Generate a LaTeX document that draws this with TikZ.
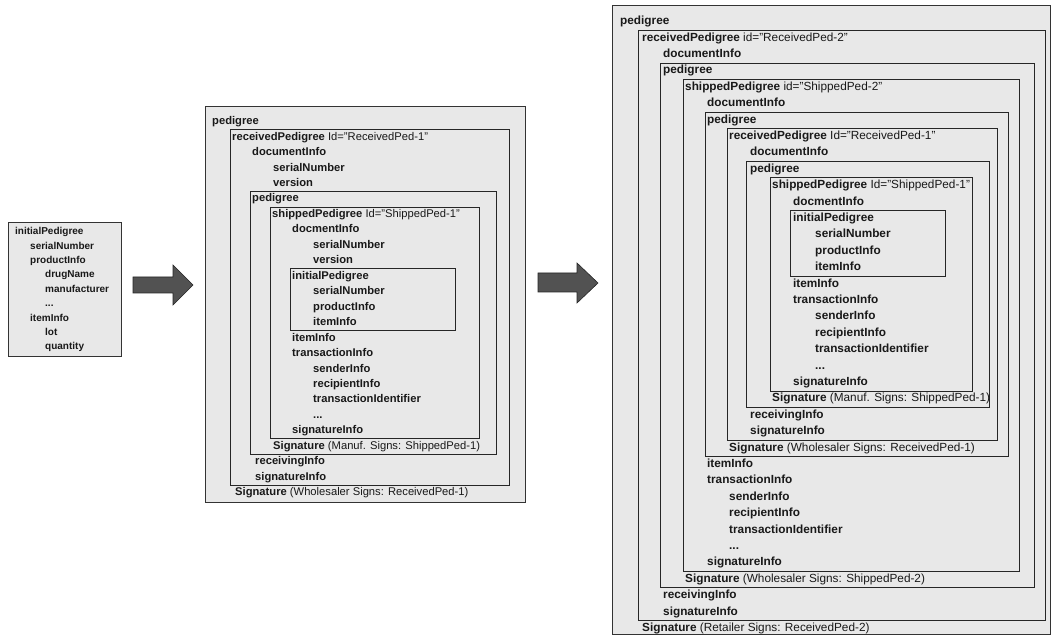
\documentclass[tikz,border=0pt]{standalone}
\usepackage{fontspec}
\setmainfont{Liberation Sans}
\usepackage{tikz}

\tikzset{
  entry/.style={anchor=mid west, inner sep=0pt, text=black!90},
  box/.style={draw=black!85, line width=0.9pt},
  panel/.style={draw=black!80, line width=1pt, fill=black!9},
  blockarrow/.style={fill=black!68, draw=black!85, line width=0.6pt, line join=miter}
}

\begin{document}
\begin{tikzpicture}[x=1pt, y=-1pt]
	  \useasboundingbox (0,0) rectangle (1053,636);
	  % Panels
	  \draw [panel] (8,223) rectangle (121,357);
	  \draw [panel] (205,107) rectangle (525,502);
	  \draw [panel] (612,6) rectangle (1050,634);
	  % Arrows
	  \filldraw [blockarrow] (133,277) -- (173,277) -- (173,265) -- (193,285) -- (173,305) -- (173,293) -- (133,293) -- cycle;
	  \filldraw [blockarrow] (538,273) -- (577,273) -- (577,263) -- (598,283) -- (577,303) -- (577,292) -- (538,292) -- cycle;
	  % Left panel
	  \begin{scope}[yshift=-232pt, y=-14.4pt, font=\fontsize{10}{12}\selectfont\bfseries]
	  \node [entry] (l0) at (15,0) {initialPedigree};
	  \node [entry] (l1) at (30,1) {serialNumber};
	  \node [entry] (l2) at (30,2) {productInfo};
	  \node [entry] (l3) at (45,3) {drugName};
	  \node [entry] (l4) at (45,4) {manufacturer};
	  \node [entry] (l5) at (45,5) {...};
	  \node [entry] (l6) at (30,6) {itemInfo};
	  \node [entry] (l7) at (45,7) {lot};
	  \node [entry] (l8) at (45,8) {quantity};
	  \end{scope}
	  % Middle panel
	  \begin{scope}[yshift=-122pt, y=-15.46pt, font=\fontsize{11.2}{13}\selectfont]
	  \draw [box] (230,0.5) rectangle (509,23.5);
	  \draw [box] (250,4.5) rectangle (496,21.5);
	  \draw [box] (270,5.5) rectangle (479,20.5);
	  \draw [box] (290,9.5) rectangle (455,13.5);
	  \node [entry] (m0) at (212,0) {\textbf{pedigree}};
	  \node [entry] (m1) at (232,1) {\textbf{receivedPedigree} Id="ReceivedPed-1"};
	  \node [entry] (m2) at (252,2) {\textbf{documentInfo}};
	  \node [entry] (m3) at (273,3) {\textbf{serialNumber}};
	  \node [entry] (m4) at (273,4) {\textbf{version}};
	  \node [entry] (m5) at (252,5) {\textbf{pedigree}};
	  \node [entry] (m6) at (272,6) {\textbf{shippedPedigree} Id="ShippedPed-1"};
	  \node [entry] (m7) at (292,7) {\textbf{docmentInfo}};
	  \node [entry] (m8) at (313,8) {\textbf{serialNumber}};
	  \node [entry] (m9) at (313,9) {\textbf{version}};
	  \node [entry] (m10) at (292,10) {\textbf{initialPedigree}};
	  \node [entry] (m11) at (313,11) {\textbf{serialNumber}};
	  \node [entry] (m12) at (313,12) {\textbf{productInfo}};
	  \node [entry] (m13) at (313,13) {\textbf{itemInfo}};
	  \node [entry] (m14) at (292,14) {\textbf{itemInfo}};
	  \node [entry] (m15) at (292,15) {\textbf{transactionInfo}};
	  \node [entry] (m16) at (313,16) {\textbf{senderInfo}};
	  \node [entry] (m17) at (313,17) {\textbf{recipientInfo}};
	  \node [entry] (m18) at (313,18) {\textbf{transactionIdentifier}};
	  \node [entry] (m19) at (313,19) {\textbf{...}};
	  \node [entry] (m20) at (292,20) {\textbf{signatureInfo}};
	  \node [entry] (m21) at (273,21) {\textbf{Signature} (Manuf. Signs: ShippedPed-1)};
	  \node [entry] (m22) at (255,22) {\textbf{receivingInfo}};
	  \node [entry] (m23) at (255,23) {\textbf{signatureInfo}};
	  \node [entry] (m24) at (235,24) {\textbf{Signature} (Wholesaler Signs: ReceivedPed-1)};
	  \end{scope}
	  % Right panel
	  \begin{scope}[yshift=-22pt, y=-16.4pt, font=\fontsize{11.8}{14}\selectfont]
	  \draw [box] (638,0.5) rectangle (1045,36.5);
	  \draw [box] (660,2.5) rectangle (1034,34.5);
	  \draw [box] (683,3.5) rectangle (1019,33.5);
	  \draw [box] (705,5.5) rectangle (1008,26.5);
	  \draw [box] (727,6.5) rectangle (997,25.5);
	  \draw [box] (746,8.5) rectangle (989,23.5);
	  \draw [box] (770,9.5) rectangle (972,22.5);
	  \draw [box] (790,11.5) rectangle (945,15.5);
	  \node [entry] (r0) at (620,0) {\textbf{pedigree}};
	  \node [entry] (r1) at (642,1) {\textbf{receivedPedigree} id="ReceivedPed-2"};
	  \node [entry] (r2) at (663,2) {\textbf{documentInfo}};
	  \node [entry] (r3) at (663,3) {\textbf{pedigree}};
	  \node [entry] (r4) at (685,4) {\textbf{shippedPedigree} id="ShippedPed-2"};
	  \node [entry] (r5) at (707,5) {\textbf{documentInfo}};
	  \node [entry] (r6) at (707,6) {\textbf{pedigree}};
	  \node [entry] (r7) at (729,7) {\textbf{receivedPedigree} Id="ReceivedPed-1"};
	  \node [entry] (r8) at (750,8) {\textbf{documentInfo}};
	  \node [entry] (r9) at (750,9) {\textbf{pedigree}};
	  \node [entry] (r10) at (772,10) {\textbf{shippedPedigree} Id="ShippedPed-1"};
	  \node [entry] (r11) at (793,11) {\textbf{docmentInfo}};
	  \node [entry] (r12) at (793,12) {\textbf{initialPedigree}};
	  \node [entry] (r13) at (815,13) {\textbf{serialNumber}};
	  \node [entry] (r14) at (815,14) {\textbf{productInfo}};
	  \node [entry] (r15) at (815,15) {\textbf{itemInfo}};
	  \node [entry] (r16) at (793,16) {\textbf{itemInfo}};
	  \node [entry] (r17) at (793,17) {\textbf{transactionInfo}};
	  \node [entry] (r18) at (815,18) {\textbf{senderInfo}};
	  \node [entry] (r19) at (815,19) {\textbf{recipientInfo}};
	  \node [entry] (r20) at (815,20) {\textbf{transactionIdentifier}};
	  \node [entry] (r21) at (815,21) {\textbf{...}};
	  \node [entry] (r22) at (793,22) {\textbf{signatureInfo}};
	  \node [entry] (r23) at (772,23) {\textbf{Signature} (Manuf. Signs: ShippedPed-1)};
	  \node [entry] (r24) at (750,24) {\textbf{receivingInfo}};
	  \node [entry] (r25) at (750,25) {\textbf{signatureInfo}};
	  \node [entry] (r26) at (729,26) {\textbf{Signature} (Wholesaler Signs: ReceivedPed-1)};
	  \node [entry] (r27) at (707,27) {\textbf{itemInfo}};
	  \node [entry] (r28) at (707,28) {\textbf{transactionInfo}};
	  \node [entry] (r29) at (729,29) {\textbf{senderInfo}};
	  \node [entry] (r30) at (729,30) {\textbf{recipientInfo}};
	  \node [entry] (r31) at (729,31) {\textbf{transactionIdentifier}};
	  \node [entry] (r32) at (729,32) {\textbf{...}};
	  \node [entry] (r33) at (707,33) {\textbf{signatureInfo}};
	  \node [entry] (r34) at (685,34) {\textbf{Signature} (Wholesaler Signs: ShippedPed-2)};
	  \node [entry] (r35) at (663,35) {\textbf{receivingInfo}};
	  \node [entry] (r36) at (663,36) {\textbf{signatureInfo}};
	  \node [entry] (r37) at (642,37) {\textbf{Signature} (Retailer Signs: ReceivedPed-2)};
	  \end{scope}
	 \end{tikzpicture}
\end{document}
